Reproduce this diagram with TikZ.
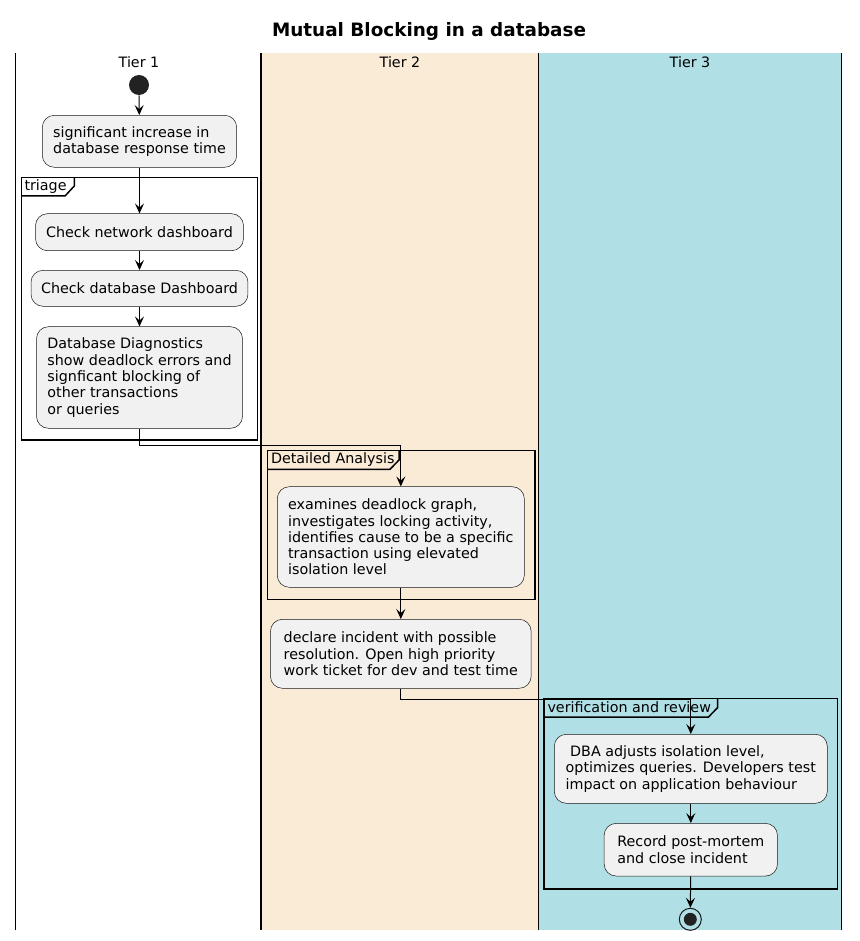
\documentclass[tikz,border=0pt]{standalone}
\usepackage{fontspec}
\setmainfont{DejaVu Sans}
\usepackage{tikz}
\usetikzlibrary{arrows.meta}
\usetikzlibrary{positioning}
\definecolor{boxfill}{HTML}{F1F1F1}
\definecolor{boxline}{HTML}{181818}
\definecolor{tiertwo}{HTML}{FAEBD7}
\definecolor{tierthree}{HTML}{B0E0E6}
\definecolor{dotfill}{HTML}{222222}
\tikzset{
    activity/.style={
           rectangle,
           rounded corners=12pt,
           draw=boxline, line width=0.5pt,
           fill=boxfill,
           inner xsep=10pt,
           align=left,
           font=\fontsize{14.3}{16.3}\selectfont,
           },
    frame/.style={-, draw=black, line width=1.5pt},
    tablabel/.style={anchor=west, inner sep=0pt, font=\fontsize{14.3}{16.3}\selectfont},
    lanehead/.style={font=\fontsize{14.3}{16.3}\selectfont},
}

\begin{document}
\begin{tikzpicture}[->,>={Stealth[length=10pt,width=9pt,inset=4pt]},x=1pt,y=-1pt,line width=1pt]
  \useasboundingbox[fill=white] (0,0) rectangle (859,941);

  % swimlanes
  \fill[tiertwo] (261,53.3) rectangle (538.5,930);
  \fill[tierthree] (538.5,53.3) rectangle (841.5,930);
  \draw[-, line width=1.3pt]
    (15.7,53.3) -- (15.7,930)
    (261,53.3) -- (261,930)
    (538.5,53.3) -- (538.5,930)
    (841.5,53.3) -- (841.5,930);

  \node[font=\bfseries\fontsize{18.4}{21}\selectfont] (TITLE) at (429,31) {Mutual Blocking in a database};
  \node[lanehead] (TIERONE) at (139,62) {Tier 1};
  \node[lanehead] (TIERTWO) at (400,62) {Tier 2};
  \node[lanehead] (TIERTHREE) at (690,62) {Tier 3};

  % groups with their tabs
  \draw[frame] (21.7,177.3) rectangle (257.3,440);
  \draw[frame] (21.7,196) -- (65,196) -- (74.3,186) -- (74.3,177.3);
  \node[tablabel] (TRIAGE) at (24,186.5) {triage};

  \draw[frame] (267.3,450.7) rectangle (535,599.3);
  \draw[frame] (267.3,469.3) -- (390,469.3) -- (399,460) -- (399,450.7);
  \node[tablabel] (ANALYSIS) at (270.5,459.8) {Detailed Analysis};

  \draw[frame] (544,698.3) rectangle (837.3,889);
  \draw[frame] (544,717) -- (708.5,717) -- (717.7,707.5) -- (717.7,698.3);
  \node[tablabel] (REVIEW) at (547,707.5) {verification and review};

  % start and stop
  \node[circle, fill=dotfill, minimum size=20pt, inner sep=0pt] (START) at (139,85) {};
  \node[circle, draw=boxline, line width=1pt, minimum size=22pt, inner sep=0pt] (STOP) at (690.3,919.3) {};
  \node[circle, fill=dotfill, minimum size=13pt, inner sep=0pt] (STOPDOT) at (STOP) {};

  % Tier 1
  \node[activity, minimum width=194.4pt, minimum height=52pt] (INCREASE) at (139.5,141.3)
   {significant increase in\\database response time};
  \node[activity, below of=INCREASE, node distance=90.9pt,
    minimum width=208pt, minimum height=37pt] (NETWORK)
   {Check network dashboard};
  \node[activity, below of=NETWORK, node distance=56.1pt,
    minimum width=216.4pt, minimum height=36pt] (DBDASH)
   {Check database Dashboard};
  \node[activity, below of=DBDASH, node distance=89.2pt,
    minimum width=206pt, minimum height=101.6pt] (DIAG)
   {Database Diagnostics\\show deadlock errors and\\signficant blocking of\\other transactions\\or queries};

  % Tier 2
  \node[activity, minimum width=247pt, minimum height=100.6pt] (EXAMINE) at (400.8,537)
   {examines deadlock graph,\\investigates locking activity,\\identifies cause to be a specific\\transaction using elevated\\isolation level};
  \node[activity, below of=EXAMINE, node distance=116.8pt,
    minimum width=260.7pt, minimum height=69pt] (DECLARE)
   {declare incident with possible\\resolution. Open high priority\\work ticket for dev and test time};

  % Tier 3
  \node[activity, minimum width=273pt, minimum height=69pt] (ADJUST) at (690.8,768.8)
   {\ DBA adjusts isolation level,\\optimizes queries. Developers test\\impact on application behaviour};
  \node[activity, below of=ADJUST, node distance=80.9pt,
    minimum width=173.3pt, minimum height=52.7pt] (RECORD)
   {Record post-mortem\\and close incident};

  % flow
  \draw (START) -- (INCREASE);
  \draw (INCREASE) -- (NETWORK);
  \draw (NETWORK) -- (DBDASH);
  \draw (DBDASH) -- (DIAG);
  \draw (DIAG.south) -- ++(0,17) -| (EXAMINE.north);
  \draw (EXAMINE) -- (DECLARE);
  \draw (DECLARE.south) -- ++(0,11) -| (ADJUST.north);
  \draw (ADJUST) -- (RECORD);
  \draw (RECORD) -- (STOP);

\end{tikzpicture}
\end{document}
